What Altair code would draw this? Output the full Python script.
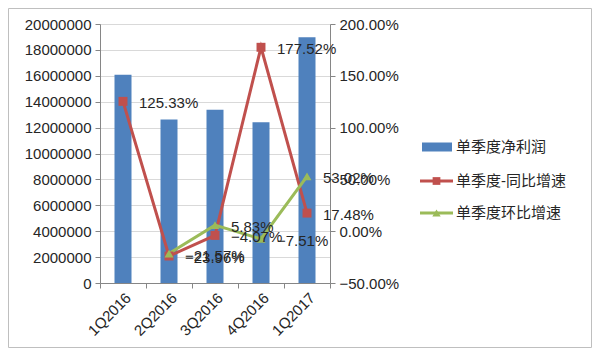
import altair as alt
import pandas as pd

quarters = ["1Q2016", "2Q2016", "3Q2016", "4Q2016", "1Q2017"]
profit = [16080000, 12620000, 13380000, 12420000, 18980000]
yoy = [1.2533, -0.2396, -0.0407, 1.7752, 0.1748]
qoq_quarters = ["2Q2016", "3Q2016", "4Q2016", "1Q2017"]
qoq = [-0.2157, 0.0583, -0.0751, 0.5302]
series_names = ["单季度净利润", "单季度-同比增速", "单季度环比增速"]

BLUE = "#4F81BD"
RED = "#C0504D"
GREEN = "#9BBB59"
FONT = "Liberation Sans, Noto Sans CJK SC"
TXT = "#262626"

bars_df = pd.DataFrame({"q": quarters, "v": profit})
lines_df = pd.concat([
    pd.DataFrame({"q": quarters, "r": yoy, "s": series_names[1]}),
    pd.DataFrame({"q": qoq_quarters, "r": qoq, "s": series_names[2]}),
])

x_enc = alt.X("q:N", sort=quarters, title=None,
              scale=alt.Scale(paddingInner=0, paddingOuter=0),
              axis=alt.Axis(labelAngle=-45, labelFontSize=15, labelColor=TXT,
                            labelFont=FONT, tickBand="extent", tickSize=5,
                            domainColor="#868686", tickColor="#868686",
                            labelPadding=2, grid=False))

bars = alt.Chart(bars_df).mark_bar(size=17, color=BLUE).encode(
    x=x_enc,
    y=alt.Y("v:Q", title=None,
            scale=alt.Scale(domain=[0, 20000000], nice=False),
            axis=alt.Axis(values=list(range(0, 20000001, 2000000)), format="d",
                          labelFontSize=15, labelColor=TXT, labelFont=FONT,
                          grid=True, gridColor="#D9D9D9", tickSize=5,
                          domainColor="#868686", tickColor="#868686",
                          labelPadding=4)),
)

color_scale = alt.Scale(domain=series_names[1:], range=[RED, GREEN])
shape_scale = alt.Scale(domain=series_names[1:], range=["square", "triangle-up"])
y_r = alt.Y("r:Q", title=None,
            scale=alt.Scale(domain=[-0.5, 2.0], nice=False),
            axis=alt.Axis(orient="right", values=[-0.5, 0, 0.5, 1.0, 1.5, 2.0],
                          format=".2%", labelFontSize=15, labelColor=TXT,
                          labelFont=FONT, grid=False, tickSize=5,
                          domainColor="#868686", tickColor="#868686",
                          labelPadding=4))

base = alt.Chart(lines_df).encode(x=alt.X("q:N", sort=quarters), y=y_r)
lines = base.mark_line(strokeWidth=3).encode(
    color=alt.Color("s:N", scale=color_scale, legend=None), detail="s:N")
points = base.mark_point(filled=True, opacity=1, size=80).encode(
    color=alt.Color("s:N", scale=color_scale, legend=None),
    shape=alt.Shape("s:N", scale=shape_scale, legend=None))
labels = base.mark_text(align="left", baseline="middle", dx=16, dy=2,
                        fontSize=15, font=FONT, color=TXT).encode(
    text=alt.Text("r:Q", format=".2%"))

right = alt.layer(lines, points, labels)

# manual legend
leg_df = pd.DataFrame({"n": series_names})
def leg_text(i, y):
    return alt.Chart(pd.DataFrame({"n": [series_names[i]]})).mark_text(
        align="left", baseline="middle", fontSize=15, font=FONT, color=TXT
    ).encode(x=alt.value(356), y=alt.value(y), text="n:N")

ly = [123, 157, 189]
leg_rect = alt.Chart(pd.DataFrame({"n": [series_names[0]]})).mark_rect(color=BLUE).encode(
    x=alt.value(322), x2=alt.value(352), y=alt.value(ly[0] - 4.5), y2=alt.value(ly[0] + 4.5))
leg_red_line = alt.Chart(pd.DataFrame({"n": [series_names[1]]})).mark_rule(
    color=RED, strokeWidth=3).encode(
    x=alt.value(320), x2=alt.value(353), y=alt.value(ly[1]))
leg_red_pt = alt.Chart(pd.DataFrame({"n": [series_names[1]]})).mark_point(
    shape="square", filled=True, opacity=1, size=60, color=RED).encode(
    x=alt.value(336.5), y=alt.value(ly[1]))
leg_green_line = alt.Chart(pd.DataFrame({"n": [series_names[2]]})).mark_rule(
    color=GREEN, strokeWidth=3).encode(
    x=alt.value(320), x2=alt.value(353), y=alt.value(ly[2]))
leg_green_pt = alt.Chart(pd.DataFrame({"n": [series_names[2]]})).mark_point(
    shape="triangle-up", filled=True, opacity=1, size=70, color=GREEN).encode(
    x=alt.value(336.5), y=alt.value(ly[2]))

frame = alt.Chart(pd.DataFrame({"n": ["frame"]})).mark_rect(
    fill=None, stroke="#BFBFBF", strokeWidth=1).encode(
    x=alt.value(-91.5), x2=alt.value(491.5), y=alt.value(-15.5), y2=alt.value(323.5))

legend = alt.layer(leg_rect, leg_red_line, leg_red_pt, leg_green_line, leg_green_pt,
                   leg_text(0, ly[0]), leg_text(1, ly[1]), leg_text(2, ly[2]), frame)

chart = alt.layer(bars, right, legend).resolve_scale(y="independent").properties(
    width=230, height=259,
    autosize=alt.AutoSizeParams(type="none"),
    padding={"left": 92, "top": 16, "right": 262, "bottom": 65},
).configure_view(stroke=None).configure(background="white")

chart.save("out.html", embed_options={"renderer": "svg", "actions": False})
